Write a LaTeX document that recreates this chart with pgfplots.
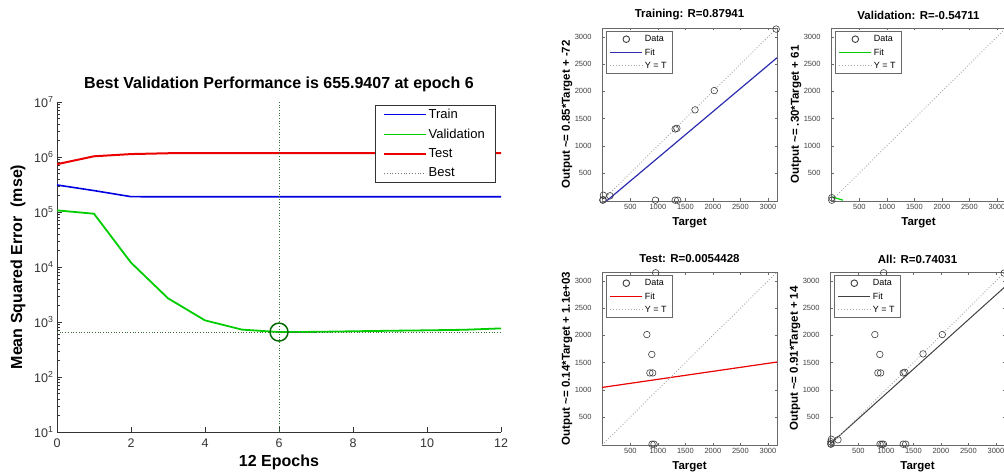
\documentclass[border=0pt]{standalone}
\usepackage{fontspec}
\setmainfont{Liberation Sans}
\usepackage{pgfplots}
\pgfplotsset{compat=1.18}
\definecolor{mblue}{RGB}{0,0,225}
\definecolor{mgreen}{RGB}{0,205,0}
\definecolor{mred}{RGB}{235,0,0}
\definecolor{bestgreen}{RGB}{0,105,0}
\definecolor{fitblue}{RGB}{45,45,175}
\definecolor{framegray}{RGB}{105,105,105}
\definecolor{datagray}{RGB}{60,60,60}

\pgfplotsset{
  rplot/.style={anchor=south west, scale only axis, width=175pt, height=173pt,
    xmin=-15, xmax=3165, ymin=-15, ymax=3165,
    xtick={500,1000,...,3000}, ytick={500,1000,...,3000},
    tick align=inside, major tick length=2.5pt,
    axis line style={framegray, line width=0.9pt}, tick style={framegray},
    ticklabel style={font=\fontsize{7.5}{8}\selectfont, text=black!75},
    yticklabel style={xshift=-7pt},
    /pgf/number format/assume math mode=true, /pgf/number format/1000 sep={},
    title style={font=\bfseries\fontsize{11.5}{12}\selectfont, at={(0.5,1)}, anchor=center, yshift=7pt},
    xlabel style={font=\bfseries\fontsize{11.5}{12}\selectfont, at={(0.5,0)}, anchor=center, yshift=-22pt},
    ylabel style={font=\bfseries\fontsize{11.5}{12}\selectfont, at={(-0.2,0.5)}, anchor=center},
    xlabel={Target},
    legend image code/.code={\draw[mark repeat=2,mark phase=2,##1] plot coordinates {(0pt,0pt)(16pt,0pt)(32pt,0pt)};},
    legend image post style={line width=0.9pt},
    legend style={at={(0,1)}, anchor=north west, xshift=4pt, yshift=-3pt,
      font=\fontsize{9}{10.5}\selectfont, draw=framegray, line width=0.7pt, inner xsep=3.5pt, inner ysep=2pt, row sep=1.5pt},
    legend cell align=left},
  datastyle/.style={only marks, mark=o, mark size=3.3pt, datagray, line width=0.6pt},
  ytstyle/.style={gray!70, dotted, line width=0.9pt},
}

\begin{document}
\begin{tikzpicture}
\useasboundingbox (0,0) rectangle (1004pt,474pt);

% performance plot
\begin{axis}[at={(57pt,42pt)}, anchor=south west, scale only axis, width=444pt, height=330pt,
  ymode=log, xmin=0, xmax=12, ymin=10, ymax=1e7,
  xtick={0,2,...,12}, ytick={1e1,1e2,1e3,1e4,1e5,1e6,1e7},
  yticklabels={10\textsuperscript{1},10\textsuperscript{2},10\textsuperscript{3},10\textsuperscript{4},10\textsuperscript{5},10\textsuperscript{6},10\textsuperscript{7}},
  axis x line*=bottom, axis y line*=left, tick align=inside,
  major tick length=5pt, minor tick length=3pt,
  axis line style={black!80}, tick style={black!80},
  ticklabel style={font=\fontsize{12.5}{14}\selectfont, text=black!80},
  xticklabel style={yshift=-3pt},
  /pgf/number format/assume math mode=true,
  title={Best Validation Performance is 655.9407 at epoch 6},
  title style={font=\bfseries\fontsize{16}{18}\selectfont, at={(0.5,1)}, anchor=center, yshift=12pt},
  xlabel={12 Epochs},
  xlabel style={font=\bfseries\fontsize{16}{18}\selectfont, at={(0.5,0)}, anchor=center, yshift=-30pt},
  ylabel={Mean Squared Error\ \ (mse)},
  ylabel style={font=\bfseries\fontsize{16}{18}\selectfont, at={(-0.088,0.5)}, anchor=center},
  legend image code/.code={\draw[#1] (0pt,0pt) -- (42pt,0pt);},
  legend style={at={(1,1)}, anchor=north east, xshift=-6pt, yshift=-3pt,
    font=\fontsize{13}{15}\selectfont, draw=black!80, inner xsep=8pt, inner ysep=2pt, row sep=4.8pt},
  legend cell align=left]
\addplot[mblue, line width=1.6pt, forget plot]
  coordinates {(0,3.1e5)(1,2.45e5)(2,1.9e5)(3,1.89e5)(4,1.89e5)(5,1.89e5)(6,1.89e5)(7,1.89e5)(8,1.89e5)(9,1.89e5)(10,1.89e5)(11,1.89e5)(12,1.89e5)};
\addplot[mgreen, line width=1.8pt, forget plot]
  coordinates {(0,1.07e5)(1,9.3e4)(2,1.2e4)(3,2.7e3)(4,1.07e3)(5,727)(6,655.9407)(7,662)(8,678)(9,693)(10,706)(11,722)(12,765)};
\addplot[mred, line width=2pt, forget plot]
  coordinates {(0,7.4e5)(1,1.03e6)(2,1.13e6)(3,1.17e6)(4,1.18e6)(5,1.18e6)(6,1.18e6)(7,1.18e6)(8,1.18e6)(9,1.18e6)(10,1.18e6)(11,1.18e6)(12,1.18e6)};
\addplot[bestgreen!60!gray, dotted, line width=0.7pt, forget plot]
  coordinates {(6,10)(6,1e7)};
\addplot[bestgreen!60!gray, dotted, line width=0.7pt, forget plot] coordinates {(0,655.9407)(12,655.9407)};
\addplot[only marks, mark=o, mark size=9pt, bestgreen, line width=1.5pt, forget plot] coordinates {(6,655.9407)};
\addlegendimage{draw=mblue, line width=1.3pt}
\addlegendentry{Train}
\addlegendimage{draw=mgreen, line width=1.3pt}
\addlegendentry{Validation}
\addlegendimage{draw=mred, line width=1.3pt}
\addlegendentry{Test}
\addlegendimage{draw=black!55, dotted, line width=0.8pt}
\addlegendentry{Best}
\end{axis}

% Training
\begin{axis}[rplot, at={(602pt,273pt)}, title={Training: R=0.87941}, ylabel={Output \textasciitilde= 0.85*Target + -72}]
\addplot[datastyle]
  coordinates {(0,0)(5,10)(10,90)(130,80)(955,0)(1315,0)(1360,0)(1315,1310)(1345,1320)(1675,1660)(2025,2015)(3150,3145)};
\addlegendentry{Data}
\addplot[fitblue, line width=1.2pt] coordinates {(0,-72)(3165,2618)};
\addlegendentry{Fit}
\addplot[ytstyle] coordinates {(-15,-15)(3165,3165)};
\addlegendentry{Y = T}
\end{axis}

% Validation
\begin{axis}[rplot, at={(831pt,273pt)}, title={Validation: R=-0.54711}, ylabel={Output \textasciitilde= .30*Target + 61}]
\addplot[datastyle] coordinates {(0,0)(0,45)};
\addlegendentry{Data}
\addplot[mgreen, line width=1.2pt] coordinates {(0,61)(203,0)};
\addlegendentry{Fit}
\addplot[ytstyle] coordinates {(-15,-15)(3165,3165)};
\addlegendentry{Y = T}
\end{axis}

% Test
\begin{axis}[rplot, at={(602pt,29pt)}, title={Test: R=0.0054428}, ylabel={Output \textasciitilde= 0.14*Target + 1.1e+03}]
\addplot[datastyle]
  coordinates {(960,3150)(800,2015)(890,1650)(855,1310)(905,1310)(895,0)(930,0)};
\addlegendentry{Data}
\addplot[mred, line width=1.2pt] coordinates {(-15,1043)(3165,1510)};
\addlegendentry{Fit}
\addplot[ytstyle] coordinates {(-15,-15)(3165,3165)};
\addlegendentry{Y = T}
\end{axis}

% All
\begin{axis}[rplot, at={(830pt,29pt)}, title={All: R=0.74031}, ylabel={Output \textasciitilde= 0.91*Target + 14}]
\addplot[datastyle]
  coordinates {(0,0)(5,10)(10,90)(130,80)(0,45)(955,0)(1315,0)(1360,0)(1315,1310)(1345,1320)(1675,1660)(2025,2015)(3150,3145)
               (960,3150)(800,2015)(890,1650)(855,1310)(905,1310)(895,0)(930,0)};
\addlegendentry{Data}
\addplot[black!75, line width=1pt] coordinates {(0,14)(3165,2894)};
\addlegendentry{Fit}
\addplot[ytstyle] coordinates {(-15,-15)(3165,3165)};
\addlegendentry{Y = T}
\end{axis}
\end{tikzpicture}
\end{document}
